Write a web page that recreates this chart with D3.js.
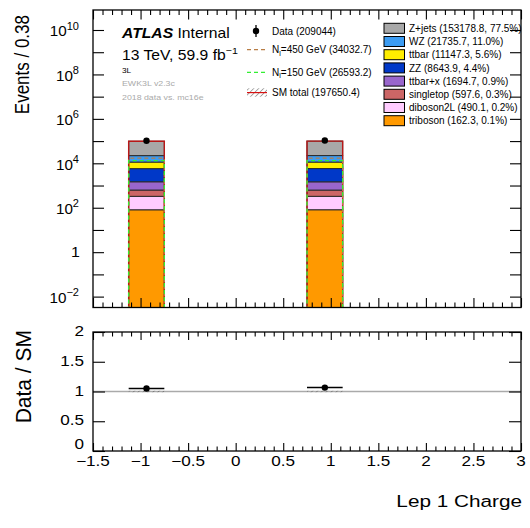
<!DOCTYPE html>
<html>
<head>
<meta charset="utf-8">
<script src="https://cdn.jsdelivr.net/npm/d3@7"></script>
<style>
  body { margin: 0; background: #fff; }
  svg { font-family: "Liberation Sans", Arial, Helvetica, sans-serif; }
</style>
</head>
<body>
<div id="chart"></div>
<script>
// Lep 1 Charge, two filled bins, 12 bins of 0.375 between -1.5 and 3
const binLo = [-1.125, 0.75];
const binHi = [-0.75, 1.125];

// stack, bottom to top
const sampleKeys = ["triboson", "diboson2L", "singletop", "ttbarx", "ZZ", "ttbar", "WZ", "Zjets"];
const sampleColors = ["#ff9900", "#ffccff", "#cc6666", "#9966cc", "#0038c8", "#ffee00", "#3c9cf2", "#a8a8a8"];
const sampleLabels = [
  "triboson (162.3, 0.1%)", "diboson2L (490.1, 0.2%)", "singletop (597.6, 0.3%)",
  "ttbar+x (1694.7, 0.9%)", "ZZ (8643.9, 4.4%)", "ttbar (11147.3, 5.6%)",
  "WZ (21735.7, 11.0%)", "Z+jets (153178.8, 77.5%)"
];

const triboson = [81.0, 81.3];
const diboson2L = [245.0, 245.1];
const singletop = [300.0, 297.6];
const ttbarx = [850.0, 844.7];
const ZZ = [4290.0, 4353.9];
const ttbar = [5600.0, 5547.3];
const WZ = [10800.0, 10935.7];
const Zjets = [75900.0, 77278.8];

const dataCounts = [102900, 106144];
const sig450 = [17000.0, 17032.7];
const sig150 = [13300.0, 13293.2];
const ratioErr = [0.012, 0.012];

const width = 530, height = 528;
const L = 93, R = 521, T = 10, B = 307.5, RT = 332, RB = 451;

const svg = d3.select("#chart").append("svg")
  .attr("width", width)
  .attr("height", height);

const defs = svg.append("defs");
const pat = defs.append("pattern")
  .attr("id", "hatch")
  .attr("patternUnits", "userSpaceOnUse")
  .attr("width", 3.5).attr("height", 3.5)
  .attr("patternTransform", "rotate(45)");
pat.append("line").attr("x1", 0).attr("y1", 0).attr("x2", 0).attr("y2", 3.5)
  .attr("stroke", "#555").attr("stroke-width", 1);
defs.append("clipPath").attr("id", "clipMain")
  .append("rect").attr("x", L).attr("y", T).attr("width", R - L).attr("height", B - T);

const x = d3.scaleLinear().domain([-1.5, 3]).range([L, R]);
const y = d3.scaleLog().domain([Math.pow(10, -2.49), Math.pow(10, 10.9)]).range([B, T]);
const yr = d3.scaleLinear().domain([0, 2]).range([RB, RT]);

// small text helper, sx = horizontal stretch
function txt(g, px, py, s, size, o = {}) {
  const t = g.append("text")
    .attr("transform", `translate(${px},${py}) scale(${o.sx || 1},1)${o.rot ? " rotate(" + o.rot + ")" : ""}`)
    .attr("font-size", size)
    .attr("text-anchor", o.anchor || "start")
    .attr("fill", o.fill || "#000");
  if (o.weight) t.attr("font-weight", o.weight);
  if (o.style) t.attr("font-style", o.style);
  if (s !== null) t.text(s);
  return t;
}

// ---------- main panel ----------
const rows = sampleKeys.map((k, i) => ({ key: k, vals: [triboson, diboson2L, singletop, ttbarx, ZZ, ttbar, WZ, Zjets][i] }));
const stackData = binLo.map((lo, b) => {
  const o = { lo: lo, hi: binHi[b] };
  rows.forEach(r => o[r.key] = r.vals[b]);
  return o;
});
const series = d3.stack().keys(sampleKeys)(stackData);

const main = svg.append("g").attr("clip-path", "url(#clipMain)");

series.forEach((s, i) => {
  main.selectAll(null).data(s).enter().append("rect")
    .attr("x", d => x(d.data.lo))
    .attr("width", d => x(d.data.hi) - x(d.data.lo))
    .attr("y", d => y(d[1]))
    .attr("height", d => (d[0] > 0 ? y(d[0]) : B + 2) - y(d[1]))
    .attr("fill", sampleColors[i])
    .attr("stroke", "#2a2a2a")
    .attr("stroke-width", 1);
});

const totals = stackData.map(d => d3.sum(sampleKeys, k => d[k]));

// uncertainty band at the top of the stack
main.selectAll(null).data(totals).enter().append("rect")
  .attr("x", (d, i) => x(binLo[i]))
  .attr("width", (d, i) => x(binHi[i]) - x(binLo[i]))
  .attr("y", d => y(d * 1.03))
  .attr("height", d => y(d * 0.97) - y(d * 1.03))
  .attr("fill", "url(#hatch)")
  .attr("opacity", 0.6);

function stepPath(vals) {
  return vals.map((v, i) => `M${x(binLo[i])},${B + 3}V${y(v)}H${x(binHi[i])}V${B + 3}`).join("");
}

main.append("path").attr("d", stepPath(totals))
  .attr("fill", "none").attr("stroke", "#b81818").attr("stroke-width", 1.4);
main.append("path").attr("d", stepPath(sig450))
  .attr("fill", "none").attr("stroke", "#b87d45").attr("stroke-width", 1.3)
  .attr("stroke-dasharray", "4,3");
main.append("path").attr("d", stepPath(sig150))
  .attr("fill", "none").attr("stroke", "#33ee33").attr("stroke-width", 1.3)
  .attr("stroke-dasharray", "4,3");

// data points
const cx = (d, i) => x((binLo[i] + binHi[i]) / 2);
main.selectAll(null).data(dataCounts).enter().append("line")
  .attr("x1", cx).attr("x2", cx)
  .attr("y1", d => y(d + Math.sqrt(d))).attr("y2", d => y(d - Math.sqrt(d)))
  .attr("stroke", "#000").attr("stroke-width", 1.3);
main.selectAll(null).data(dataCounts).enter().append("circle")
  .attr("cx", cx).attr("cy", d => y(d)).attr("r", 3.2).attr("fill", "#000");

// axes of main panel
const majorX = d3.range(-1.5, 3.001, 0.5);
const minorX = d3.range(-1.5, 3.001, 0.1).filter(v => Math.abs(v * 2 - Math.round(v * 2)) > 1e-6);
const decades = d3.range(-2, 11).map(e => Math.pow(10, e));

function ticks(axis, tv, size, tr) {
  const g = svg.append("g").attr("transform", tr)
    .call(axis.tickValues(tv).tickSize(size).tickSizeOuter(0).tickFormat(""));
  g.select(".domain").remove();
  g.selectAll("line").attr("stroke", "#000").attr("stroke-width", 1.1);
  return g;
}

ticks(d3.axisBottom(x), majorX, -9.5, `translate(0,${B})`);
ticks(d3.axisBottom(x), minorX, -5, `translate(0,${B})`);
ticks(d3.axisTop(x), majorX, -9.5, `translate(0,${T})`);
ticks(d3.axisTop(x), minorX, -5, `translate(0,${T})`);
ticks(d3.axisLeft(y), decades, -11, `translate(${L},0)`);
ticks(d3.axisRight(y), decades, -11, `translate(${R},0)`);

svg.append("rect").attr("x", L).attr("y", T).attr("width", R - L).attr("height", B - T)
  .attr("fill", "none").attr("stroke", "#000").attr("stroke-width", 1.3);

// log labels
d3.range(-2, 11, 2).forEach(e => {
  const py = y(Math.pow(10, e));
  if (e === 0) {
    txt(svg, 80, py + 5, "1", 14.5, { anchor: "end", sx: 1.1 });
  } else {
    const t = txt(svg, 79, py + 6.5, null, 14.5, { anchor: "end", sx: 1.05 });
    t.append("tspan").text("10");
    t.append("tspan").attr("dy", -7).attr("font-size", 10.5).text(e < 0 ? "\u2212" + (-e) : String(e));
  }
});

txt(svg, 29, 15, "Events / 0.38", 17, { anchor: "end", sx: 1.2, rot: -90 });

// ATLAS label block
const lab = txt(svg, 122, 38, null, 14, { sx: 1.12 });
lab.append("tspan").attr("font-weight", "bold").attr("font-style", "italic").text("ATLAS");
lab.append("tspan").text(" Internal");
const lumi = txt(svg, 122, 59.5, null, 14, { sx: 1.12 });
lumi.append("tspan").text("13 TeV, 59.9 fb");
lumi.append("tspan").attr("dy", -6).attr("font-size", 9.5).text("\u22121");
txt(svg, 122, 73, "3L", 7.5, { sx: 1.1 });
txt(svg, 122, 86, "EWK3L v2.3c", 8, { sx: 1.1, fill: "#aaaaaa" });
txt(svg, 122, 100, "2018 data vs. mc16e", 8, { sx: 1.1, fill: "#aaaaaa" });

// middle legend
const ml = svg.append("g");
ml.append("line").attr("x1", 256).attr("x2", 256).attr("y1", 25).attr("y2", 37)
  .attr("stroke", "#000").attr("stroke-width", 1.3);
ml.append("circle").attr("cx", 256).attr("cy", 31).attr("r", 3.2).attr("fill", "#000");
txt(ml, 272, 34.5, "Data (209044)", 10);

ml.append("line").attr("x1", 247).attr("x2", 267).attr("y1", 49.7).attr("y2", 49.7)
  .attr("stroke", "#b87d45").attr("stroke-width", 1.3).attr("stroke-dasharray", "4,3");
const n450 = txt(ml, 272, 53.2, null, 10);
n450.append("tspan").text("N");
n450.append("tspan").attr("dy", 2.5).attr("font-size", 7).text("l");
n450.append("tspan").attr("dy", -2.5).text("=450 GeV (34032.7)");

ml.append("line").attr("x1", 247).attr("x2", 267).attr("y1", 72.3).attr("y2", 72.3)
  .attr("stroke", "#33ee33").attr("stroke-width", 1.3).attr("stroke-dasharray", "4,3");
const n150 = txt(ml, 272, 75.8, null, 10);
n150.append("tspan").text("N");
n150.append("tspan").attr("dy", 2.5).attr("font-size", 7).text("l");
n150.append("tspan").attr("dy", -2.5).text("=150 GeV (26593.2)");

ml.append("rect").attr("x", 247).attr("y", 88.3).attr("width", 20).attr("height", 8.4)
  .attr("fill", "url(#hatch)");
ml.append("line").attr("x1", 247).attr("x2", 267).attr("y1", 92.6).attr("y2", 92.6)
  .attr("stroke", "#d81010").attr("stroke-width", 1.2);
txt(ml, 272, 96.2, "SM total (197650.4)", 10);

// right legend (top entry = top of stack)
const rl = svg.append("g");
sampleKeys.slice().reverse().forEach((k, j) => {
  const i = sampleKeys.length - 1 - j;
  const cy = 28.3 + j * 13.2;
  rl.append("rect").attr("x", 384).attr("y", cy - 5).attr("width", 20.5).attr("height", 10)
    .attr("fill", sampleColors[i]).attr("stroke", "#000").attr("stroke-width", 1);
  txt(rl, 409, cy + 3.6, sampleLabels[i], 10);
});

// ---------- ratio panel ----------
const rp = svg.append("g");
rp.append("line").attr("x1", L).attr("x2", R).attr("y1", yr(1)).attr("y2", yr(1))
  .attr("stroke", "#aaaaaa").attr("stroke-width", 1.6);
rp.selectAll(null).data(ratioErr).enter().append("rect")
  .attr("x", (d, i) => x(binLo[i]))
  .attr("width", (d, i) => x(binHi[i]) - x(binLo[i]))
  .attr("y", d => yr(1 + d))
  .attr("height", d => yr(1 - d) - yr(1 + d))
  .attr("fill", "url(#hatch)");

const ratios = dataCounts.map((d, i) => d / totals[i]);
rp.selectAll(null).data(ratios).enter().append("line")
  .attr("x1", (d, i) => x(binLo[i])).attr("x2", (d, i) => x(binHi[i]))
  .attr("y1", d => yr(d)).attr("y2", d => yr(d))
  .attr("stroke", "#000").attr("stroke-width", 1.5);
rp.selectAll(null).data(ratios).enter().append("circle")
  .attr("cx", cx).attr("cy", d => yr(d)).attr("r", 3.2).attr("fill", "#000");

ticks(d3.axisBottom(x), majorX, -8, `translate(0,${RB})`);
ticks(d3.axisBottom(x), minorX, -4.5, `translate(0,${RB})`);
ticks(d3.axisTop(x), majorX, -8, `translate(0,${RT})`);
ticks(d3.axisTop(x), minorX, -4.5, `translate(0,${RT})`);
const ratioTicks = [0, 0.5, 1, 1.5, 2];
ticks(d3.axisLeft(yr), ratioTicks, -12, `translate(${L},0)`);
ticks(d3.axisRight(yr), ratioTicks, -12, `translate(${R},0)`);

svg.append("rect").attr("x", L).attr("y", RT).attr("width", R - L).attr("height", RB - RT)
  .attr("fill", "none").attr("stroke", "#000").attr("stroke-width", 1.3);

ratioTicks.forEach(v => {
  txt(svg, 84, yr(v) + 4 - (v === 0 ? 6 : 0), String(v), 14.5, { anchor: "end", sx: 1.18 });
});
majorX.forEach(v => {
  const s = (v < 0 ? "\u2212" : "") + String(Math.abs(+v.toFixed(1)));
  txt(svg, x(v), 466, s, 14.5, { anchor: "middle", sx: 1.18 });
});

txt(svg, 30.5, 330, "Data / SM", 21, { anchor: "end", sx: 1.05, rot: -90 });
txt(svg, 522, 506.5, "Lep 1 Charge", 17, { anchor: "end", sx: 1.22 });
</script>
</body>
</html>
